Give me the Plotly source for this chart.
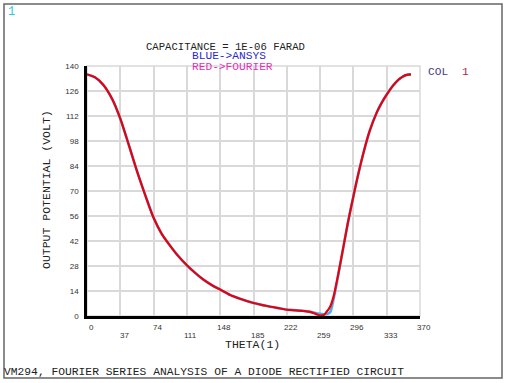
import plotly.graph_objects as go

# ---------------- data ----------------
theta = [0, 9, 18, 28, 37, 46, 55, 65, 74, 83, 92, 101, 111, 120, 129, 139, 148,
         159, 170, 185, 200, 215, 222, 230, 240, 248, 254, 259, 263, 266, 270,
         274, 279, 285, 290, 296, 301, 307, 314, 322, 327, 333, 340, 346, 350,
         355, 360]
fourier = [135.3, 133.6, 129.5, 121.5, 110.5, 96.5, 82.0, 67.3, 55.0, 46.0, 39.6,
           33.8, 28.4, 24.2, 20.5, 17.2, 14.8, 11.8, 9.7, 7.3, 5.6, 4.2, 3.5, 3.2,
           2.8, 2.3, 1.2, 0.3, 0.6, 2.2, 5.0, 11.0, 23.0, 39.0, 52.5, 67.0, 78.5,
           91.0, 103.5, 114.0, 119.0, 124.0, 129.0, 132.3, 133.8, 135.0, 135.3]
ansys = [135.3, 133.6, 129.5, 121.5, 110.5, 96.5, 82.0, 67.3, 55.0, 46.0, 39.6,
         33.8, 28.4, 24.2, 20.5, 17.2, 14.8, 11.8, 9.7, 7.3, 5.6, 4.2, 3.6, 3.4,
         2.9, 2.3, 1.6, 1.2, 1.0, 1.0, 2.0, 9.5, 22.5, 39.0, 52.5, 67.0, 78.5,
         91.0, 103.5, 114.0, 119.0, 124.0, 129.0, 132.3, 133.8, 135.0, 135.3]
x_ticks = [0, 37, 74, 111, 148, 185, 222, 259, 296, 333, 370]
y_ticks = [0, 14, 28, 42, 56, 70, 84, 98, 112, 126, 140]

# ---------------- layout helpers (pixels -> paper) ----------------
W, H = 508, 383
L, R, T, B = 87, 420, 66, 316


def px(x):
    return (x - L) / (R - L)


def py(y):
    return (B - y) / (B - T)


MONO = "Liberation Mono"
GRID = "#d9d9d9"

fig = go.Figure()
fig.add_trace(go.Scatter(x=theta, y=ansys, mode="lines",
                         line=dict(color="#4aaeee", width=2.6, shape="spline",
                                   smoothing=0.8),
                         hoverinfo="skip", showlegend=False))
fig.add_trace(go.Scatter(x=theta, y=fourier, mode="lines",
                         line=dict(color="#e8000c", width=2.2, shape="spline",
                                   smoothing=0.8),
                         hoverinfo="skip", showlegend=False))

annotations = []
# staggered x tick labels
for i, v in enumerate(x_ticks):
    ypix = 327 if i % 2 == 0 else 335
    annotations.append(dict(x=v, y=py(ypix), xref="x", yref="paper",
                            text=str(v), showarrow=False, xshift=4,
                            xanchor="center", yanchor="middle",
                            font=dict(family="Liberation Sans", size=8, color="#333")))


def txt(text, x, y, size, color, xanchor="left", angle=0):
    annotations.append(dict(x=px(x), y=py(y), xref="paper", yref="paper",
                            text=text, showarrow=False, xanchor=xanchor,
                            yanchor="middle", textangle=angle,
                            font=dict(family=MONO, size=size, color=color)))


txt("1", 6, 12, 12, "#30c8e0")
txt("CAPACITANCE = 1E-06 FARAD", 144, 47, 10.6, "#222222")
txt("BLUE->ANSYS", 190, 56.5, 11.2, "#2828d0")
txt("RED->FOURIER", 190, 66.5, 11.2, "#e030c0")
txt("COL", 426, 72, 11.2, "#4a3a80")
txt("1", 460, 72, 11.2, "#b02850")
txt("OUTPUT POTENTIAL (VOLT)", 46, 190, 11.5, "#222222", xanchor="center", angle=-90)
txt("THETA(1)", 252, 344, 11.5, "#222222", xanchor="center")
txt("VM294, FOURIER SERIES ANALYSIS OF A DIODE RECTIFIED CIRCUIT", 2, 372, 11.3, "#222222")

shapes = [
    dict(type="rect", xref="paper", yref="paper", x0=0, x1=1, y0=0, y1=1,
         line=dict(color=GRID, width=1.5), layer="below"),
    dict(type="rect", xref="paper", yref="paper", x0=px(4), x1=px(502),
         y0=py(378), y1=py(4), line=dict(color="#666666", width=1.5)),
]

fig.update_layout(
    width=W, height=H,
    margin=dict(l=L, r=W - R, t=T, b=H - B, pad=0),
    paper_bgcolor="white", plot_bgcolor="white",
    showlegend=False,
    annotations=annotations,
    shapes=shapes,
    xaxis=dict(range=[0, 370], tickvals=x_ticks, showticklabels=False,
               showgrid=True, gridcolor=GRID, gridwidth=1.5, zeroline=False,
               showline=True, linecolor="black", linewidth=2.5, ticks=""),
    yaxis=dict(range=[0, 140], tickvals=y_ticks, showticklabels=True,
               tickfont=dict(family="Liberation Sans", size=8, color="#333"),
               showgrid=True, gridcolor=GRID, gridwidth=1.5, zeroline=False,
               showline=True, linecolor="black", linewidth=2.5, ticks="",
               ticklabelstandoff=4),
)

fig.write_html("out.html",
               config={"displayModeBar": False},
               post_script="document.body.style.margin='0';"
                           "document.body.style.overflow='hidden';")
